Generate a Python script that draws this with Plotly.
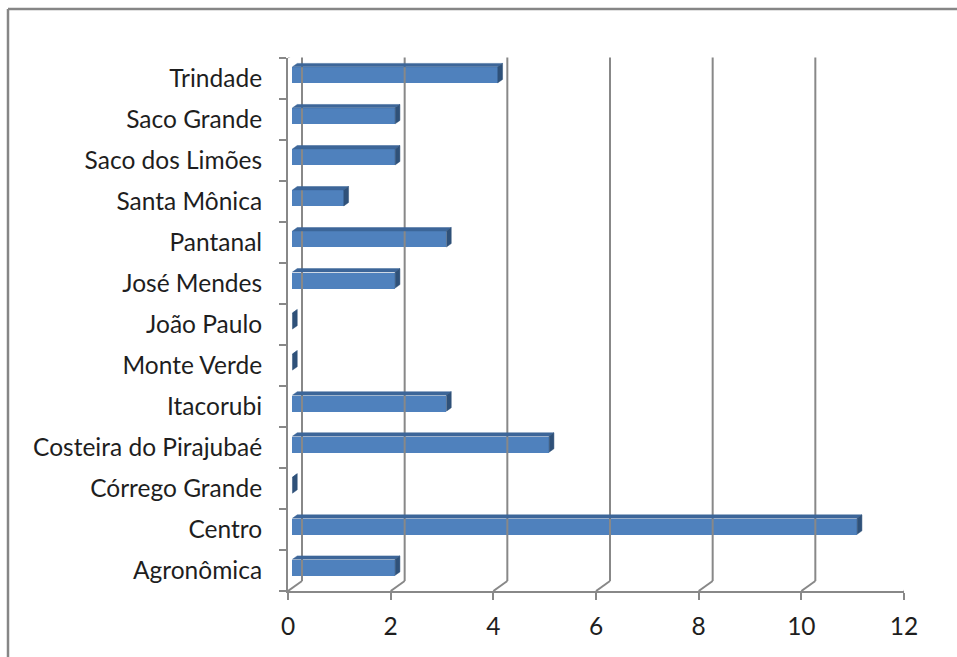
import plotly.graph_objects as go

# Neighbourhood counts (bottom to top on the category axis)
categories = [
    "Agronômica", "Centro", "Córrego Grande", "Costeira do Pirajubaé",
    "Itacorubi", "Monte Verde", "João Paulo", "José Mendes", "Pantanal",
    "Santa Mônica", "Saco dos Limões", "Saco Grande", "Trindade",
]
values = [2, 11, 0, 5, 3, 0, 0, 2, 3, 1, 2, 2, 4]
x_ticks = [0, 2, 4, 6, 8, 10, 12]

# Canvas and plot-area geometry (pixels)
W, H = 957, 657
PX_LEFT, PX_RIGHT = 288, 904
PX_TOP, PX_BOTTOM = 57.5, 591
X_MAX = 12
N = len(categories)

px_per_x = (PX_RIGHT - PX_LEFT) / X_MAX
px_per_y = (PX_BOTTOM - PX_TOP) / N

# Oblique depth of the 3-D box: full depth moves 14 px right, 10 px up
DX = 14 / px_per_x
DY = 10 / px_per_y
D0, D1 = 0.32, 0.66          # front and back depth of the bars
BAR_H = 16 / px_per_y        # height of a bar's front face

GRID = "#888888"
FONT = dict(family="Lato, 'Open Sans', sans-serif", size=24.5, color="#1e1e1e")


def proj(v, c, d):
    """Project (value, category position, depth) onto the front axes."""
    return v + d * DX, c + d * DY


fig = go.Figure()

# Back wall gridlines plus the floor diagonals joining them to the front ticks
gx, gy = [], []
lo, hi = -0.5, N - 0.5
for t in x_ticks:
    x0, y0 = proj(t, lo, 1)
    x1, y1 = proj(t, hi, 1)
    gx += [x0, x1, None]
    gy += [y0, y1, None]
    fx, fy = proj(t, lo, 0)
    gx += [fx, x0, None]
    gy += [fy, y0, None]
# top-left edge of the box
x0, y0 = proj(0, hi, 0)
x1, y1 = proj(0, hi, 1)
gx += [x0, x1, None]
gy += [y0, y1, None]
fig.add_trace(go.Scatter(x=gx, y=gy, mode="lines", cliponaxis=False,
                         line=dict(color=GRID, width=2), hoverinfo="skip",
                         showlegend=False))

# Top faces and end caps of the bars
top_x, top_y, cap_x, cap_y = [], [], [], []
for i, v in enumerate(values):
    yt = i + BAR_H / 2
    yb = i - BAR_H / 2
    a = proj(0, yt, D0)
    b = proj(v, yt, D0)
    c = proj(v, yt, D1)
    d = proj(0, yt, D1)
    top_x += [a[0], b[0], c[0], d[0], a[0], None]
    top_y += [a[1], b[1], c[1], d[1], a[1], None]
    e = proj(v, yb, D0)
    f = proj(v, yb, D1)
    cap_x += [e[0], b[0], c[0], f[0], e[0], None]
    cap_y += [e[1], b[1], c[1], f[1], e[1], None]

fig.add_trace(go.Scatter(x=top_x, y=top_y, mode="lines", fill="toself",
                         fillcolor="#3d6699", line=dict(width=0.5, color="#3d6699"),
                         cliponaxis=False, hoverinfo="skip", showlegend=False))
fig.add_trace(go.Scatter(x=cap_x, y=cap_y, mode="lines", fill="toself",
                         fillcolor="#2f5179", line=dict(width=0.5, color="#2f5179"),
                         cliponaxis=False, hoverinfo="skip", showlegend=False))

# Front faces of the bars
fig.add_trace(go.Bar(
    orientation="h",
    y=[i + D0 * DY for i in range(N)],
    x=values,
    base=D0 * DX,
    width=BAR_H,
    marker=dict(color="#4f81bd", line=dict(width=0)),
    cliponaxis=False,
    showlegend=False,
    hovertext=categories,
))

fig.update_layout(
    width=W, height=H, autosize=False,
    margin=dict(l=0, r=0, t=0, b=0, pad=0, autoexpand=False),
    paper_bgcolor="white", plot_bgcolor="rgba(0,0,0,0)",
    font=FONT,
    bargap=0,
    showlegend=False,
    xaxis=dict(
        range=[0, X_MAX],
        domain=[PX_LEFT / W, PX_RIGHT / W],
        automargin=False,
        tickmode="array", tickvals=x_ticks,
        ticks="outside", ticklen=7, tickwidth=2, tickcolor=GRID,
        showline=True, linecolor=GRID, linewidth=2,
        showgrid=False, zeroline=False,
        ticklabelstandoff=6,
        tickfont=FONT,
    ),
    yaxis=dict(
        range=[-0.5, N - 0.5],
        domain=[(H - PX_BOTTOM) / H, (H - PX_TOP) / H],
        automargin=False,
        tickmode="array", tickvals=list(range(N)), ticktext=categories,
        ticks="outside", ticklen=0, tickcolor=GRID,
        minor=dict(tickmode="array",
                   tickvals=[k - 0.5 for k in range(N + 1)],
                   ticks="outside", ticklen=7, tickwidth=2, tickcolor=GRID,
                   showgrid=False),
        showline=True, linecolor=GRID, linewidth=2,
        showgrid=False, zeroline=False,
        ticklabelstandoff=19,
        tickfont=FONT,
    ),
    shapes=[
        # chart-area frame (left and top edges)
        dict(type="line", xref="paper", yref="paper",
             x0=8 / W, x1=8 / W, y0=0, y1=(H - 9) / H,
             line=dict(color="#868686", width=2.5)),
        dict(type="line", xref="paper", yref="paper",
             x0=8 / W, x1=1, y0=(H - 9) / H, y1=(H - 9) / H,
             line=dict(color="#868686", width=2.5)),
    ],
)

fig.write_html("out.html", config={"responsive": False, "displayModeBar": False})
